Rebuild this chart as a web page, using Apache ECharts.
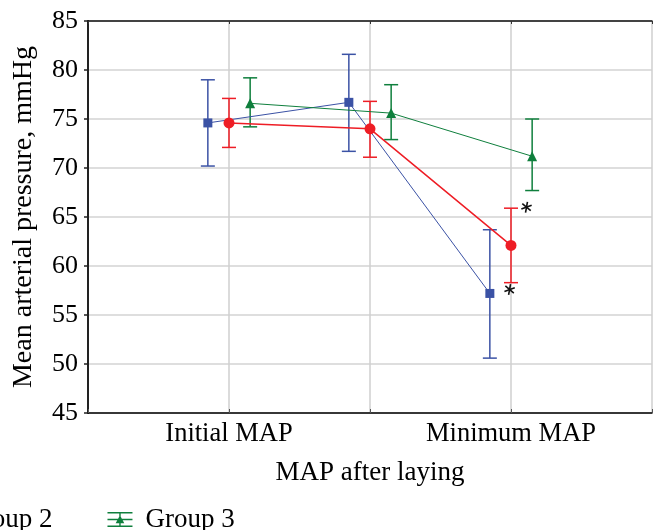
<!DOCTYPE html>
<html>
<head>
<meta charset="utf-8">
<script src="https://cdn.jsdelivr.net/npm/echarts@6/dist/echarts.min.js"></script>
<style>html,body{margin:0;padding:0;background:#fff}#c{width:658px;height:530px}</style>
</head>
<body>
<div id="c"></div>
<script>
// ---- data ----
const categories = ['Initial MAP', '', 'Minimum MAP'];
const groupNames = ['Group 1', 'Group 2', 'Group 3'];
const group1Mean = [74.6, 76.7, 57.2];
const group1Low  = [70.2, 71.7, 50.6];
const group1High = [79.0, 81.6, 63.7];
const group2Mean = [74.6, 74.0, 62.1];
const group2Low  = [72.1, 71.1, 58.3];
const group2High = [77.1, 76.8, 65.9];
const group3Mean = [76.6, 75.6, 71.2];
const group3Low  = [74.2, 72.9, 67.7];
const group3High = [79.2, 78.5, 75.0];
// significance marks: category index, value
const starCats = [2, 2];
const starValues = [66.0, 57.6];
const yMin = 45, yMax = 85, yStep = 5;

// ---- styles ----
const FONT = 'Liberation Serif';
const colors = ['#3b52a5', '#ee1d25', '#0f7f3d'];
const symbols = ['rect', 'circle', 'triangle'];
const symbolSizes = [9, 11, 10];
const lineWidths = [1, 1.5, 1];
const dodge = [-0.15, 0, 0.15];
const starDodge = [0.11, -0.01];

const means = [group1Mean, group2Mean, group3Mean];
const lows = [group1Low, group2Low, group3Low];
const highs = [group1High, group2High, group3High];

const series = [];
for (let g = 0; g < 3; g++) {
  const eb = categories.map((c, i) => [i + 1 + dodge[g], lows[g][i], highs[g][i]]);
  series.push({
    type: 'custom',
    name: 'eb' + g,
    xAxisIndex: 0, yAxisIndex: 0,
    data: eb,
    z: 3,
    silent: true,
    renderItem: (function (col) {
      return function (params, api) {
        const x = api.value(0);
        const p1 = api.coord([x, api.value(2)]);
        const p2 = api.coord([x, api.value(1)]);
        const w = 7;
        const st = { stroke: col, lineWidth: 1.5 };
        return {
          type: 'group', children: [
            { type: 'line', shape: { x1: p1[0], y1: p1[1], x2: p2[0], y2: p2[1] }, style: st },
            { type: 'line', shape: { x1: p1[0] - w, y1: p1[1], x2: p1[0] + w, y2: p1[1] }, style: st },
            { type: 'line', shape: { x1: p2[0] - w, y1: p2[1], x2: p2[0] + w, y2: p2[1] }, style: st }
          ]
        };
      };
    })(colors[g])
  });
}
for (let g = 0; g < 3; g++) {
  series.push({
    type: 'line',
    name: groupNames[g],
    xAxisIndex: 0, yAxisIndex: 0,
    data: categories.map((c, i) => [i + 1 + dodge[g], means[g][i]]),
    symbol: symbols[g],
    symbolSize: symbolSizes[g],
    showAllSymbol: true,
    z: 4,
    itemStyle: { color: colors[g], opacity: 1 },
    lineStyle: { color: colors[g], width: lineWidths[g] },
    emphasis: { disabled: true },
    animation: false
  });
}
series.push({
  type: 'custom',
  name: 'stars',
  xAxisIndex: 0, yAxisIndex: 0,
  data: starCats.map((c, i) => [c + 1 + starDodge[i], starValues[i]]),
  z: 5,
  silent: true,
  renderItem: function (params, api) {
    const p = api.coord([api.value(0), api.value(1)]);
    const r = 5.5;
    const kids = [];
    for (let k = 0; k < 3; k++) {
      const a = (100 + k * 60) * Math.PI / 180;
      kids.push({ type: 'line', shape: { x1: p[0] - r * Math.cos(a), y1: p[1] - r * Math.sin(a), x2: p[0] + r * Math.cos(a), y2: p[1] + r * Math.sin(a) }, style: { stroke: '#111', lineWidth: 1.6 } });
    }
    return { type: 'group', children: kids };
  }
});

function iconPath() {
  return 'path://M0,0H25V1.6H0Z M0,13.4H25V15H0Z M0,6.7H25V8.3H0Z M11.8,0H13.2V15H11.8Z M12.5,3.2L16.8,11.2H8.2Z';
}

const axisText = { color: '#000', fontFamily: FONT };
const option = {
  animation: false,
  backgroundColor: '#fff',
  grid: { left: 88, right: 6, top: 21, bottom: 117 },
  legend: {
    left: -262, top: 501,
    itemWidth: 25, itemHeight: 15, itemGap: 55,
    selectedMode: false,
    textStyle: { color: '#000', fontFamily: FONT, fontSize: 27, padding: [0, 0, 0, 8] },
    data: groupNames.map(n => ({ name: n, icon: iconPath() }))
  },
  xAxis: [
    {
      type: 'value', min: 0, max: 4, interval: 1, position: 'bottom',
      name: 'MAP after laying', nameLocation: 'middle', nameGap: 46,
      nameTextStyle: Object.assign({ fontSize: 27 }, axisText),
      axisLine: { lineStyle: { color: '#000', width: 1.5 } },
      axisTick: { show: true, inside: true, length: 4, lineStyle: { color: '#555' } },
      axisLabel: Object.assign({ fontSize: 26.5, margin: 8, formatter: v => (v >= 1 && v <= categories.length && Number.isInteger(v)) ? categories[v - 1] : '' }, axisText),
      splitLine: { show: true, lineStyle: { color: '#cfcfcf', width: 1.5 } }
    },
    {
      type: 'value', min: 0, max: 4, interval: 1, position: 'top',
      axisLine: { lineStyle: { color: '#111', width: 1.5 } },
      axisTick: { show: true, inside: true, length: 3, lineStyle: { color: '#333' } },
      axisLabel: { show: false }, splitLine: { show: false }
    }
  ],
  yAxis: [
    {
      type: 'value', min: yMin, max: yMax, interval: yStep, position: 'left',
      name: 'Mean arterial pressure, mmHg', nameLocation: 'middle', nameGap: 50,
      nameTextStyle: Object.assign({ fontSize: 28 }, axisText),
      axisLine: { show: true, lineStyle: { color: '#000', width: 1.5 } },
      axisTick: { show: false },
      axisLabel: Object.assign({ fontSize: 26, margin: 10 }, axisText),
      splitLine: { show: true, lineStyle: { color: '#d3d3d3', width: 1.5 } }
    },
    {
      type: 'value', min: yMin, max: yMax, interval: yStep, position: 'right',
      axisLine: { show: true, lineStyle: { color: '#222', width: 2 } },
      axisTick: { show: true, inside: true, length: 4, lineStyle: { color: '#222', width: 1.5 } },
      axisLabel: { show: false }, splitLine: { show: false }
    }
  ],
  series: series
};
const chart = echarts.init(document.getElementById('c'), null, { renderer: 'canvas' });
chart.setOption(option);
</script>
</body>
</html>
